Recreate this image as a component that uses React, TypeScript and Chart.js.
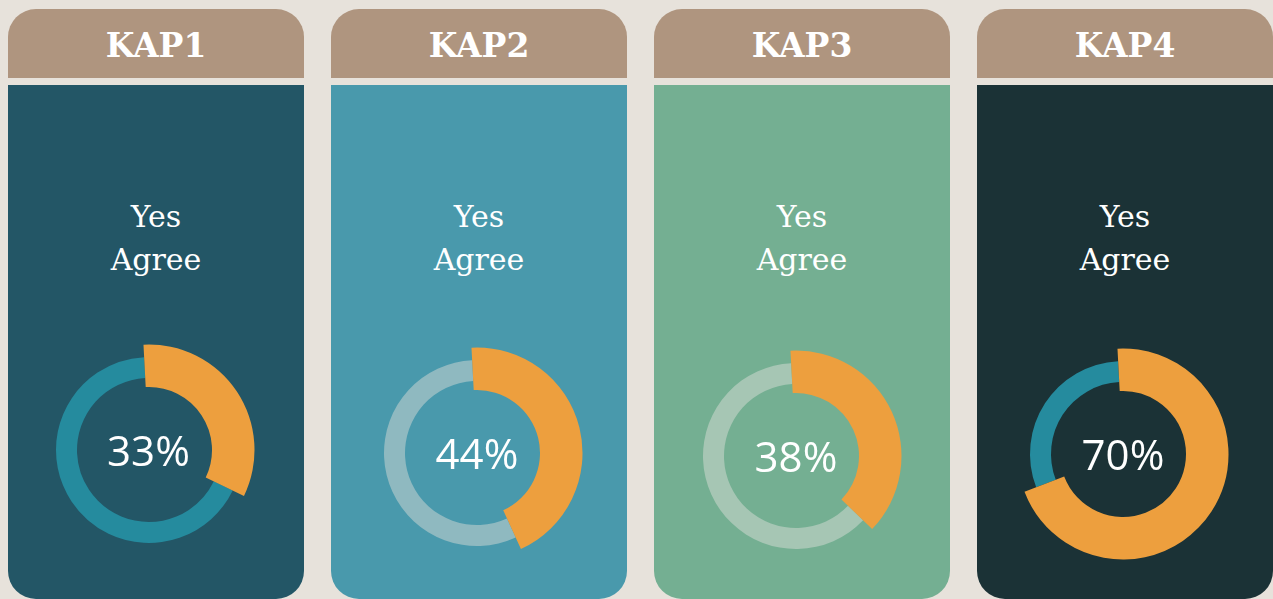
import React, { useEffect, useRef } from "react";
import { Chart, registerables } from "chart.js";

Chart.register(...registerables);

// ---- data ----
const CATEGORIES = ["KAP1", "KAP2", "KAP3", "KAP4"];
const ANSWER_LINES = ["Yes", "Agree"];
const AGREE_PCT = [33, 44, 38, 70];
const OTHER_PCT = [67, 56, 62, 30];

// ---- styles ----
const PAGE_BG = "#e7e2db";
const HEADER_BG = "#af957f";
const ORANGE = "#ed9f3e";
const CARD_BG = ["#235666", "#4999ac", "#74af92", "#1b3236"];
const RING_BG = ["#258b9e", "#8fb9c0", "#a6c6b4", "#258b9e"];
const RING_DX = [-7.5, -2, -6, -2];
const RING_DY = [-3.5, -0.5, 2.5, 1];

const CANVAS = 240;

type RingProps = {
  values: number[];
  colors: string[];
  radius: number;
  inner: number;
};

function Ring({ values, colors, radius, inner }: RingProps) {
  const ref = useRef<HTMLCanvasElement | null>(null);
  useEffect(() => {
    if (!ref.current) return;
    const chart = new Chart(ref.current, {
      type: "doughnut",
      data: {
        labels: ["Yes, agree", "Other"],
        datasets: [
          {
            data: values,
            backgroundColor: colors,
            borderWidth: 0,
            radius,
            cutout: ((inner / radius) * 100).toFixed(2) + "%",
            rotation: -3,
          } as any,
        ],
      },
      options: {
        animation: false,
        responsive: false,
        events: [],
        layout: { padding: 0 },
        plugins: {
          legend: { display: false },
          tooltip: { enabled: false },
        },
      } as any,
    });
    return () => chart.destroy();
  }, [values, colors, radius, inner]);
  return (
    <canvas
      ref={ref}
      width={CANVAS}
      height={CANVAS}
      style={{ position: "absolute", left: 0, top: 0, width: CANVAS, height: CANVAS }}
    />
  );
}

function Card({ i }: { i: number }) {
  const cx = 148 + RING_DX[i];
  const cy = 453 - 9 + RING_DY[i];
  const values = [AGREE_PCT[i], OTHER_PCT[i]];
  return (
    <div
      style={{
        position: "absolute",
        left: 8 + i * 323,
        top: 9,
        width: 296,
        height: 590,
      }}
    >
      <div
        style={{
          position: "absolute",
          left: 0,
          top: 0,
          width: 296,
          height: 69,
          background: HEADER_BG,
          borderRadius: "28px 28px 0 0",
          color: "#ffffff",
          fontFamily: "'DejaVu Serif', serif",
          fontWeight: 700,
          fontSize: 33,
          lineHeight: "69px",
          textAlign: "center",
          paddingTop: 2,
          boxSizing: "border-box",
        }}
      >
        {CATEGORIES[i]}
      </div>
      <div
        style={{
          position: "absolute",
          left: 0,
          top: 76,
          width: 296,
          height: 514,
          background: CARD_BG[i],
          borderRadius: "0 0 28px 28px",
        }}
      />
      <div
        style={{
          position: "absolute",
          left: 0,
          top: 186,
          width: 296,
          textAlign: "center",
          color: "#ffffff",
          fontFamily: "'DejaVu Serif', serif",
          fontSize: 30,
          lineHeight: "43px",
        }}
      >
        {ANSWER_LINES.map((l) => (
          <div key={l}>{l}</div>
        ))}
      </div>
      <div
        style={{
          position: "absolute",
          left: cx - CANVAS / 2,
          top: cy - CANVAS / 2,
          width: CANVAS,
          height: CANVAS,
        }}
      >
        <Ring values={values} colors={["rgba(0,0,0,0)", RING_BG[i]]} radius={93} inner={72} />
        <Ring values={values} colors={[ORANGE, "rgba(0,0,0,0)"]} radius={105.5} inner={63} />
        <div
          style={{
            position: "absolute",
            left: 0,
            top: 0,
            width: CANVAS,
            height: CANVAS,
            display: "flex",
            alignItems: "center",
            justifyContent: "center",
            color: "#ffffff",
            fontFamily: "'Open Sans', sans-serif",
            fontSize: 42,
            lineHeight: 1,
          }}
        >
          {AGREE_PCT[i]}%
        </div>
      </div>
    </div>
  );
}

export default function App() {
  return (
    <div
      style={{
        position: "fixed",
        left: 0,
        top: 0,
        width: 1273,
        height: 599,
        background: PAGE_BG,
        overflow: "hidden",
      }}
    >
      {CATEGORIES.map((_, i) => (
        <Card key={i} i={i} />
      ))}
    </div>
  );
}
